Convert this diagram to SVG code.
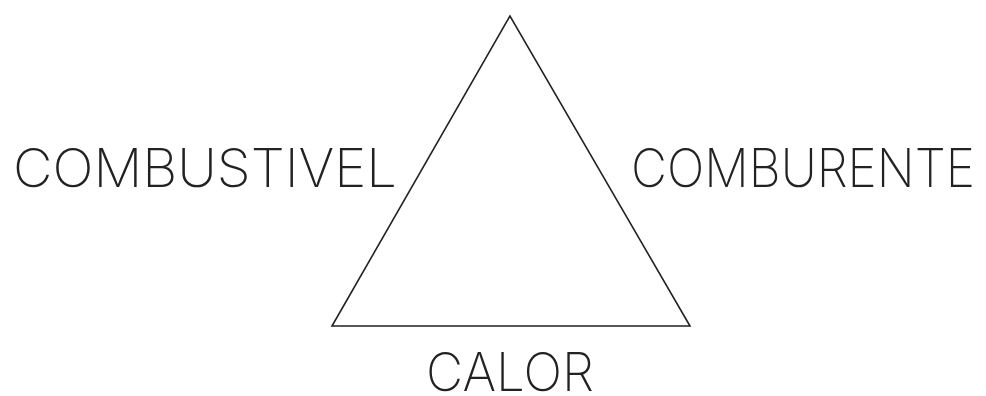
<svg xmlns="http://www.w3.org/2000/svg" width="986" height="396" viewBox="0 0 986 396">
<style>
.lbl{font-family:Inter,Roboto,"DejaVu Sans",sans-serif;font-weight:200;font-size:53px;fill:#222}
.edge{fill:none;stroke:#222;stroke-width:1.6;stroke-linejoin:miter}
</style>
<rect width="986" height="396" fill="#fff"/>
<g id="connectors">
<polygon class="edge" points="510,16 332,326 690,326"/>
</g>
<g id="combustivel"><text class="lbl" x="13" y="187" textLength="384" lengthAdjust="spacingAndGlyphs">COMBUSTIVEL</text></g>
<g id="comburente"><text class="lbl" x="631" y="187" textLength="344" lengthAdjust="spacingAndGlyphs">COMBURENTE</text></g>
<g id="calor"><text class="lbl" x="426" y="391" font-size="47" textLength="168" lengthAdjust="spacingAndGlyphs">CALOR</text></g>
</svg>
